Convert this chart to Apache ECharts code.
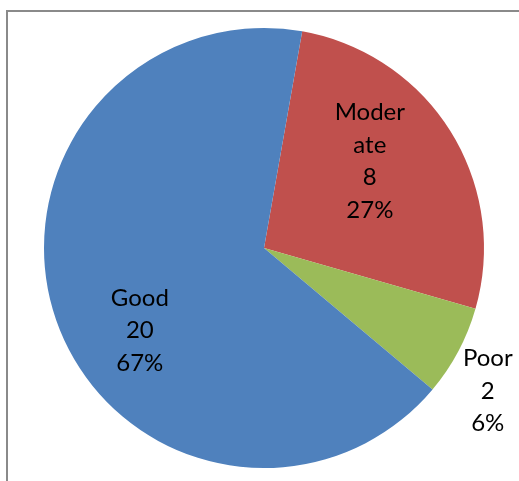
<!DOCTYPE html>
<html><head><meta charset="utf-8">
<script src="https://cdn.jsdelivr.net/npm/echarts@6/dist/echarts.min.js"></script>
<style>html,body{margin:0;padding:0;background:#fff}#c{width:519px;height:481px}</style>
</head><body><div id="c"></div>
<script>
const categories = ['Moderate', 'Poor', 'Good'];
const labelNames = ['Moder\nate', 'Poor', 'Good'];
const values = [8, 2, 20];
const percentLabels = ['27%', '6%', '67%'];
const colors = ['#C0504D', '#9BBB59', '#4F81BD'];
const offsets = [[10, -27], [124, 90], [-18, 44]];

const chart = echarts.init(document.getElementById('c'), null, {renderer: 'canvas'});
chart.setOption({
  animation: false,
  graphic: [{
    type: 'rect', shape: {x: 7, y: 11, width: 600, height: 600},
    style: {fill: 'none', stroke: '#8a8a8a', lineWidth: 2}, silent: true, z: -1
  }],
  series: [{
    type: 'pie',
    center: [264, 248],
    radius: [0, 220],
    startAngle: 80,
    clockwise: true,
    data: categories.map((c, i) => ({
      name: c, value: values[i],
      itemStyle: {color: colors[i]},
      label: {offset: offsets[i]}
    })),
    itemStyle: {borderWidth: 0},
    label: {
      show: true, position: 'inner',
      formatter: p => labelNames[p.dataIndex] + '\n' + p.value + '\n' + percentLabels[p.dataIndex],
      fontFamily: 'Lato, "Open Sans", sans-serif', fontSize: 24, lineHeight: 32.5,
      color: '#000', align: 'center'
    },
    labelLine: {show: false}
  }]
});
</script></body></html>
